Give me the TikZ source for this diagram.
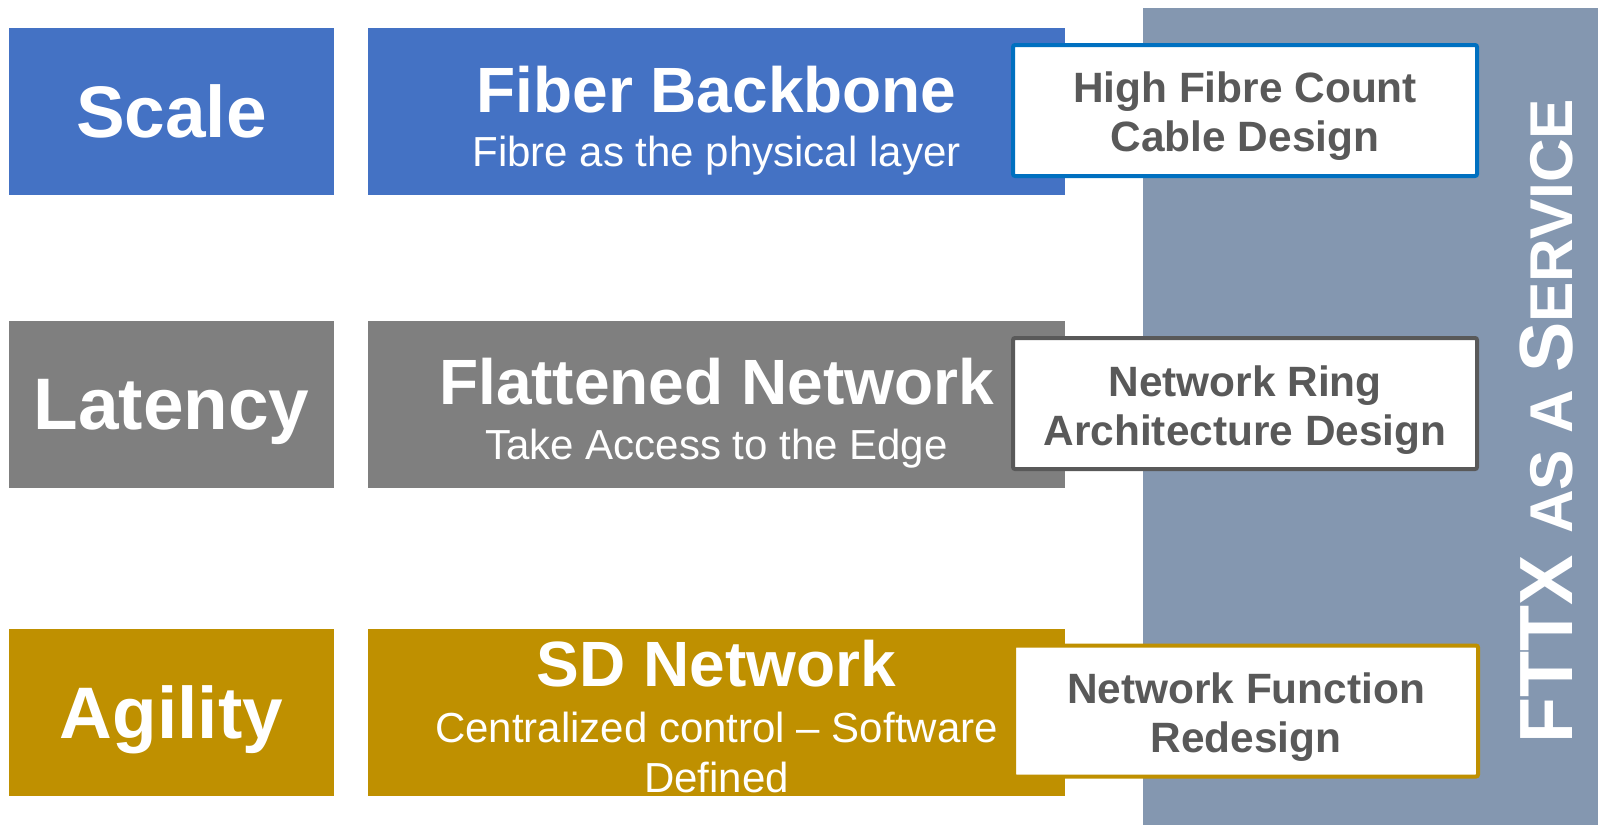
\documentclass[tikz,border=0pt]{standalone}
\usepackage{fontspec}
\setmainfont{Liberation Sans}
\usetikzlibrary{positioning}

\definecolor{scaleblue}{HTML}{4472C4}
\definecolor{latgray}{HTML}{7F7F7F}
\definecolor{agilgold}{HTML}{BF9000}
\definecolor{bandblue}{HTML}{8497B0}
\definecolor{frameblue}{HTML}{0070C0}
\definecolor{framegray}{HTML}{595959}

\newcommand{\fullcaps}{\fontsize{37.7}{40}\selectfont}
\newcommand{\smallcaps}{\fontsize{30.2}{32}\selectfont}

\begin{document}
\begin{tikzpicture}[x=0.5pt,y=-0.5pt,
	every node/.style={inner sep=0pt,outer sep=0pt},
	rowbox/.style={fill=#1,minimum height=83.5pt,anchor=north west},
	tagbox/.style={rowbox=#1,minimum width=162.5pt,text=white,text depth=0pt,
		font=\fontsize{36.5}{40}\selectfont\bfseries},
	mainbox/.style={rowbox=#1,minimum width=348.5pt},
	framebox/.style={draw=#1,line width=2pt,fill=white,rounded corners=1pt,
		minimum width=232pt,minimum height=65.5pt},
	titletext/.style={text=white,anchor=base,font=\fontsize{32}{36}\selectfont\bfseries},
	subtext/.style={text=white,anchor=base,align=center,font=\fontsize{21}{25}\selectfont},
	frametext/.style={text=framegray,anchor=base,align=center,
		font=\fontsize{21.2}{24.5}\selectfont\bfseries}]

	\useasboundingbox (0,0) rectangle (1598,825);

	% service band
	\fill[bandblue] (1143,8) rectangle (1598,825);

	% rows
	\node[tagbox=scaleblue] (scale) at (9,27.5) {Scale};
	\node[mainbox=scaleblue, right=17pt of scale] (backbone) {};
	\node[tagbox=latgray] (latency) at (9,321) {Latency};
	\node[mainbox=latgray, right=17pt of latency] (flattened) {};
	\node[tagbox=agilgold] (agility) at (9,629) {Agility};
	\node[mainbox=agilgold, right=17pt of agility] (sdnet) {};

	\node[titletext] (backbonetitle) at (716.5,112) {Fiber Backbone};
	\node[subtext] (backbonesub) at (716.5,166) {Fibre as the physical layer};
	\node[titletext] (flattenedtitle) at (716.5,404) {Flattened Network};
	\node[subtext] (flattenedsub) at (716.5,459) {Take Access to the Edge};
	\node[titletext] (sdnettitle) at (716.5,686) {SD Network};
	\node[subtext] (sdnetsub) at (716.5,792) {Centralized control – Software\\Defined};

	% design boxes
	\node[framebox=frameblue] (cable) at (1245,110.5) {};
	\node[frametext] (cabletxt) at (1245,151) {High Fibre Count\\Cable Design};
	\node[framebox=framegray] (ring) at (1245,403.5) {};
	\node[frametext] (ringtxt) at (1245,445) {Network Ring\\Architecture Design};
	\node[framebox=agilgold] (nfunc) at (1246,711) {};
	\node[frametext] (nfunctxt) at (1246,752) {Network Function\\Redesign};

	\node[rotate=90,text=white,font=\bfseries,text depth=0pt] (fttx) at (1546.5,421)
		{\fullcaps FTTX \smallcaps AS A \fullcaps S\smallcaps ERVICE};

\end{tikzpicture}
\end{document}
